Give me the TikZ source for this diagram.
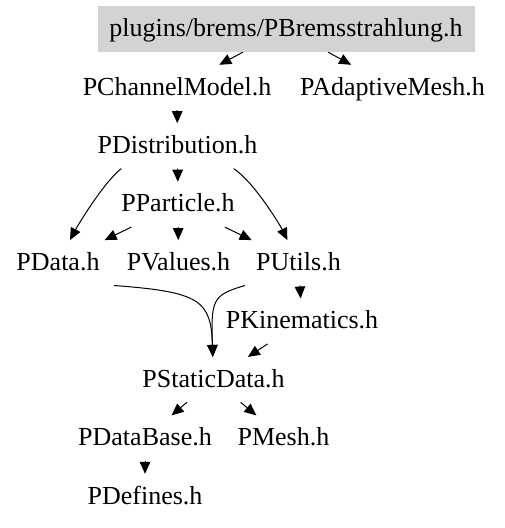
\documentclass[tikz,border=0pt]{standalone}
\usepackage{fontspec}
\setmainfont{Liberation Serif}
\usepackage{tikz}
\usetikzlibrary{arrows.meta}
\definecolor{boxgray}{RGB}{211,211,211}

\begin{document}
\begin{tikzpicture}[x=1pt,y=-1pt]
    \useasboundingbox (0,0) rectangle (505,528);

    \node (brems) [fill=boxgray,minimum width=377pt,minimum height=46pt,inner sep=0pt,
      font=\fontsize{26}{30}\selectfont,text height=18pt,text depth=3pt] at (286,29) {plugins/brems/PBremsstrahlung.h};

    \begin{scope}[every node/.style={inner xsep=20pt,inner ysep=12pt,
        text height=18pt,text depth=3pt,font=\fontsize{26}{30}\selectfont}]
      \node (chan) at (177,87.5) {PChannelModel.h};
      \node (amesh) at (392.5,87.5) {PAdaptiveMesh.h};
      \node (dist) at (177.5,145.9) {PDistribution.h};
      \node (part) at (178,204.4) {PParticle.h};
      \node (data) at (58,262.8) {PData.h};
      \node (values) at (178.5,262.8) {PValues.h};
      \node (utils) at (298.5,262.8) {PUtils.h};
      \node (kine) at (302,321.2) {PKinematics.h};
      \node (static) at (213.5,379.6) {PStaticData.h};
      \node (dbase) at (145,438.1) {PDataBase.h};
      \node (mesh) at (283.5,438.1) {PMesh.h};
      \node (defs) at (145,496.5) {PDefines.h};
    \end{scope}

    \begin{scope}[>={Triangle[length=12pt,width=10.5pt]},line width=1pt,
        every edge/.style={draw}]
      \path [->] (brems) edge (chan);
      \path [->] (brems) edge (amesh);
      \path [->] (chan) edge (dist);
      \path [->] (dist) edge (part);
      \draw [->] (dist.-158) .. controls (104,182) and (78,225) .. (data);
      \draw [->] (dist.-22) .. controls (254,182) and (280,225) .. (utils);
      \path [->] (part) edge (data);
      \path [->] (part) edge (values);
      \path [->] (part) edge (utils);
      \draw [->] (data.-22.6) .. controls (200,292) and (211,300) .. (static);
      \draw [->] (utils.-157.2) .. controls (212,295) and (211,300) .. (static);
      \path [->] (utils) edge (kine);
      \path [->] (kine) edge (static);
      \path [->] (static) edge (dbase);
      \path [->] (static) edge (mesh);
      \path [->] (dbase) edge (defs);
    \end{scope}
  \end{tikzpicture}
\end{document}
